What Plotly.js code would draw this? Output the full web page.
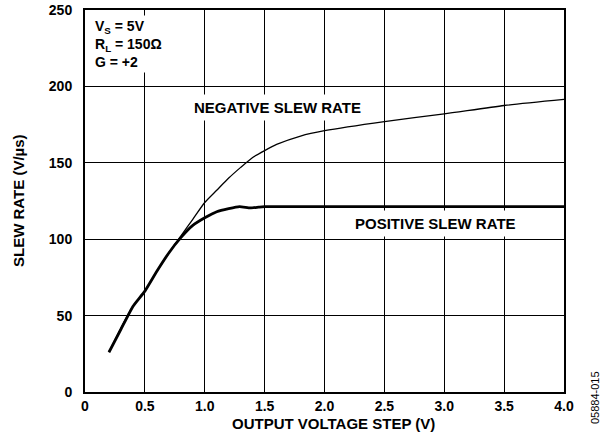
<!DOCTYPE html>
<html><head><meta charset="utf-8">
<script src="https://cdn.plot.ly/plotly-3.0.1.min.js"></script>
<style>body{margin:0;background:#fff}#chart{width:610px;height:435px}</style>
</head><body><div id="chart"></div>
<script>
const negX = [0.2,0.3,0.4,0.5,0.6,0.7,0.8,0.9,1.0,1.1,1.2,1.3,1.4,1.5,1.6,1.8,2.0,2.5,3.0,3.5,4.0];
const negY = [26,42,56,66,79,91,102,113,124,132,140,147,153.5,158,162,167.5,171,177,182,187.5,191.5];
const posX = [0.2,0.3,0.4,0.5,0.6,0.7,0.8,0.9,1.0,1.1,1.2,1.29,1.38,1.45,1.5,2.0,2.5,3.0,3.5,4.0];
const posY = [26,41,56,66,79,91,101,109,114,118,120,121.3,120.5,121,121.3,121.3,121.3,121.3,121.3,121.3];
const xTicks = [0,0.5,1.0,1.5,2.0,2.5,3.0,3.5,4.0];
const xTickText = ['0','0.5','1.0','1.5','2.0','2.5','3.0','3.5','4.0'];
const yTicks = [0,50,100,150,200,250];

const F = 'Liberation Sans, Arial, sans-serif';
const traces = [
  {x: negX, y: negY, mode:'lines', line:{color:'#000', width:1.3, shape:'spline', smoothing:0.6}, hoverinfo:'skip'},
  {x: posX, y: posY, mode:'lines', line:{color:'#000', width:2.8, shape:'spline', smoothing:0.4}, hoverinfo:'skip'}
];
const axisCommon = {showline:true, mirror:true, linecolor:'#000', linewidth:2, showgrid:true, gridcolor:'#000', gridwidth:1, zeroline:false,
  ticks:'outside', tickcolor:'rgba(0,0,0,0)', tickfont:{family:F, size:14, color:'#000', weight:'bold'}};
const layout = {
  width:610, height:435, showlegend:false,
  paper_bgcolor:'#fff', plot_bgcolor:'#fff',
  margin:{l:85, r:46, t:10, b:43},
  font:{family:F, color:'#000'},
  xaxis: Object.assign({}, axisCommon, {range:[0,4], tickvals:xTicks, ticktext:xTickText, ticklen:0}),
  yaxis: Object.assign({}, axisCommon, {range:[0,250], tickvals:yTicks, ticklen:8}),
  annotations:[
    {xref:'paper', yref:'paper', x:0.015, y:0.988, xanchor:'left', yanchor:'top', align:'left', showarrow:false,
     text:'<b>V<sub>S</sub> = 5V<br>R<sub>L</sub> = 150Ω<br>G = +2</b>', font:{family:F, size:14, color:'#000'}, bgcolor:'#fff', borderpad:2},
    {xref:'x', yref:'y', x:1.607, y:186.5, showarrow:false, text:'<b>NEGATIVE SLEW RATE</b>', font:{family:F, size:15, color:'#000'}, bgcolor:'#fff', borderpad:4},
    {xref:'x', yref:'y', x:2.93, y:110, showarrow:false, text:'<b>POSITIVE SLEW RATE</b>', font:{family:F, size:15, color:'#000'}, bgcolor:'#fff', borderpad:4},
    {xref:'paper', yref:'paper', x:0, y:0, xanchor:'center', yanchor:'middle', showarrow:false, text:'<b>OUTPUT VOLTAGE STEP (V)</b>', font:{family:F, size:15, color:'#000'}},
    {xref:'paper', yref:'paper', x:0, y:0, xanchor:'center', yanchor:'middle', textangle:-90, showarrow:false, text:'<b>SLEW RATE (V/µs)</b>', font:{family:F, size:15, color:'#000'}},
    {xref:'paper', yref:'paper', x:0, y:0, xanchor:'center', yanchor:'middle', showarrow:false, textangle:-90, text:'05884-015', font:{family:F, size:11, color:'#000'}}
  ]
};
// place titles at pixel positions relative to the plot area
const pw = 610-85-46, ph = 435-10-43;
layout.annotations[3].x = (333-85)/pw; layout.annotations[3].y = (392-423)/ph;
layout.annotations[4].x = (18-85)/pw; layout.annotations[4].y = (392-201)/ph;
layout.annotations[5].x = (595-85)/pw; layout.annotations[5].y = (392-398)/ph;
Plotly.newPlot('chart', traces, layout, {staticPlot:true});
</script></body></html>
